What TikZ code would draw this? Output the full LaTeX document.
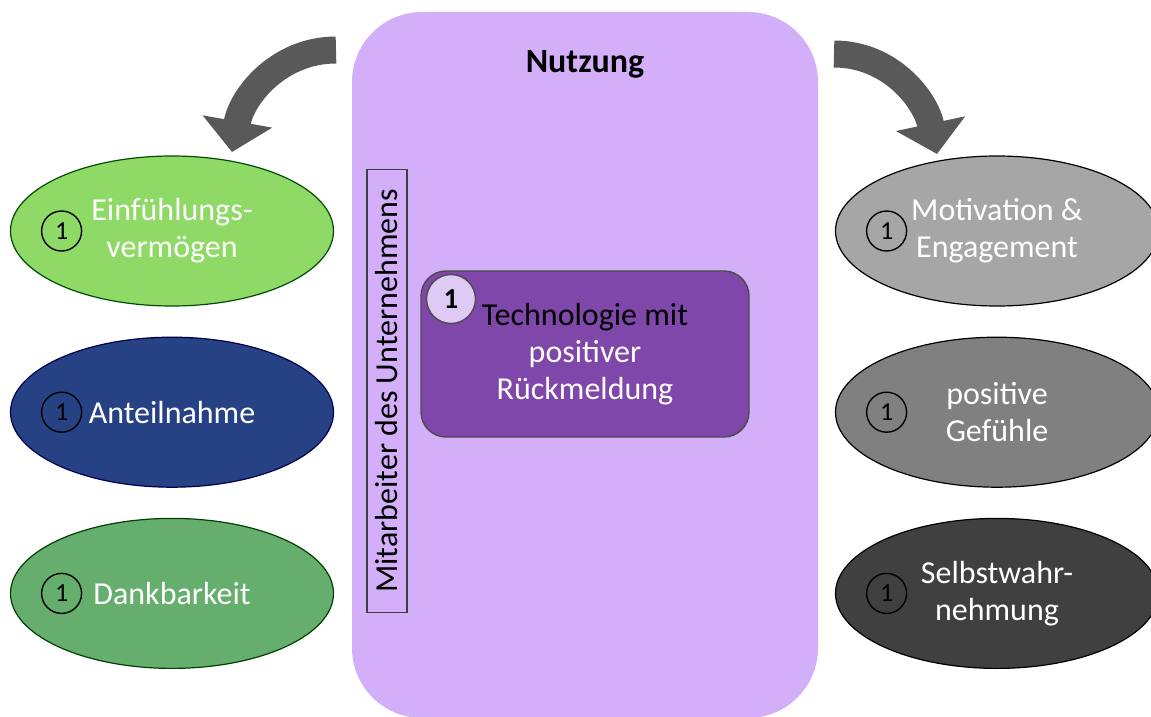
\documentclass[tikz,border=0pt]{standalone}
\usepackage{fontspec}
\setmainfont{Carlito}
\usetikzlibrary{shapes.geometric, arrows.meta, positioning}
\definecolor{lilahell}{HTML}{D4AFF9}
\definecolor{lilatief}{HTML}{7F47AA}
\definecolor{lilakreis}{HTML}{DECAF4}
\definecolor{hellgruen}{HTML}{8FD966}
\definecolor{dunkelblau}{HTML}{264285}
\definecolor{mittelgruen}{HTML}{66AE6E}
\definecolor{pfeilgrau}{HTML}{595959}

\begin{document}
\begin{tikzpicture}[
        x=1pt, y=1pt,
        oval/.style={ellipse, line width=1.2pt, minimum width=323pt, minimum height=150pt, inner sep=0pt, text=white, align=center, font=\fontsize{32}{37}\selectfont},
        num/.style={circle, draw=black, line width=1.4pt, minimum size=40pt, inner sep=0pt, font=\fontsize{26}{26}\selectfont},
        bigarrow/.style={-{Triangle[width=69pt, length=31pt]}, line width=27pt, draw=pfeilgrau}
    ]
        \useasboundingbox (0,0) rectangle (1151,716);
        \node[rectangle, rounded corners=70pt, fill=lilahell, minimum width=466pt, minimum height=706pt] (nutz) at (585,351) {};
        \node[anchor=base, font=\bfseries\fontsize{34}{34}\selectfont] (titel) at (585,643) {Nutzung};
        \node[draw=black!75, line width=1.4pt, rotate=90, minimum width=443pt, minimum height=40pt, inner sep=0pt, font=\fontsize{32}{32}\selectfont] (mitarb) at (387,325) {Mitarbeiter des Unternehmens};
        \node[rectangle, rounded corners=25pt, fill=lilatief, draw=black!70, line width=1.4pt, minimum width=328pt, minimum height=166pt, align=center, font=\fontsize{32}{37}\selectfont] (tech) at (585,362) {Technologie mit\\\textcolor{white}{positiver}\\\textcolor{white}{Rückmeldung}};
        \node[circle, fill=lilakreis, draw=black!70, line width=1.4pt, minimum size=49pt, inner sep=0pt, font=\bfseries\fontsize{29}{29}\selectfont] (eins) at (451,417) {1};

        \node[oval, fill=hellgruen, draw=green!30!black] (empath) at (172,485) {Einfühlungs-\\vermögen};
        \node[oval, fill=dunkelblau, draw=blue!30!black, below=30pt of empath] (anteil) {Anteilnahme};
        \node[oval, fill=mittelgruen, draw=green!25!black, below=30pt of anteil] (dank) {Dankbarkeit};
        \node[oval, fill=black!35, draw=black, text=white] (motiv) at (997,485) {Motivation \&\\Engagement};
        \node[oval, fill=black!50, draw=black, below=30pt of motiv] (gefuehl) {positive\\Gefühle};
        \node[oval, fill=black!75, draw=black, below=30pt of gefuehl] (selbst) {Selbstwahr-\\nehmung};

        \node[num, right=31pt of empath.west] (n1) {1};
        \node[num, right=31pt of anteil.west] (n2) {1};
        \node[num, right=31pt of dank.west] (n3) {1};
        \node[num, right=31pt of motiv.west] (n4) {1};
        \node[num, right=31pt of gefuehl.west] (n5) {1};
        \node[num, right=31pt of selbst.west] (n6) {1};

        \coordinate (lstart) at (336,666);
        \coordinate (lziel) at (232,564);
        \coordinate (rstart) at (834,662);
        \coordinate (rziel) at (937,562);
        \draw[bigarrow] (lstart) to[out=180, in=80] (lziel);
        \draw[bigarrow] (rstart) to[out=0, in=102] (rziel);
    \end{tikzpicture}
\end{document}
